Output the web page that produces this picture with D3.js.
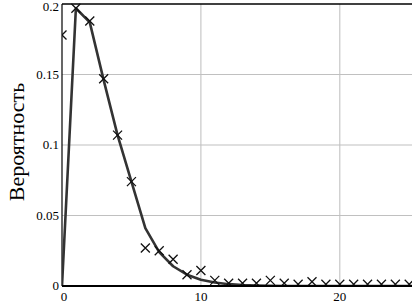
<!DOCTYPE html>
<html>
<head>
<meta charset="utf-8">
<script src="https://cdn.jsdelivr.net/npm/d3@7/dist/d3.min.js"></script>
<style>
  body { margin: 0; background: #fff; }
</style>
</head>
<body>
<div id="chart"></div>
<script>
// observed frequencies (markers)
var obsX = [0,1,2,3,4,5,6,7,8,9,10,11,12,13,14,15,16,17,18,19,20,21,22,23,24,25];
var obsY = [0.178,0.197,0.188,0.147,0.107,0.074,0.027,0.025,0.019,0.008,0.011,0.004,0.002,0.002,0.002,0.004,0.002,0.0012,0.003,0.0012,0.0012,0.0012,0.0012,0.0012,0.0012,0.0012];

// theoretical curve
var fitX = [0,1,2,3,4,5,6,7,8,9,10,11,12,13,14,15,16,17,18,19,20,21,22,23,24,25,26];
var fitY = [0,0.197,0.187,0.146,0.107,0.074,0.041,0.024,0.014,0.008,0.0045,0.0025,0.0013,0.0006,0.0003,0.0001,0,0,0,0,0,0,0,0,0,0,0];

var xTicks = [0, 10, 20];
var yTicks = [0, 0.05, 0.1, 0.15, 0.2];
var yTitle = "Вероятность";

var serif = "'Liberation Serif', 'Times New Roman', 'DejaVu Serif', serif";

var W = 412, H = 304;
var margin = {top: 4, left: 62, right: 0, bottom: 18};
var w = W - margin.left - margin.right,
	h = H - margin.top - margin.bottom;

var svg = d3.select("#chart").append("svg")
	.attr("width", W)
	.attr("height", H);

var g = svg.append("g")
	.attr("transform", "translate(" + margin.left + "," + margin.top + ")");

var x = d3.scaleLinear().domain([0, 25.2]).range([0, w]);
var y = d3.scaleLinear().domain([0, 0.2]).range([h, 0]);

// grid
g.selectAll(".gx").data(xTicks.slice(1)).enter().append("line")
	.attr("x1", d => x(d)).attr("x2", d => x(d))
	.attr("y1", 0).attr("y2", h)
	.attr("stroke", "#c8c8c8").attr("stroke-width", 1.2);
g.selectAll(".gy").data(yTicks.slice(1, -1)).enter().append("line")
	.attr("x1", 0).attr("x2", w)
	.attr("y1", d => y(d)).attr("y2", d => y(d))
	.attr("stroke", "#c0c0c0").attr("stroke-width", 1.2);

// frame
g.append("line").attr("x1", 0).attr("x2", w).attr("y1", 0).attr("y2", 0)
	.attr("stroke", "#000").attr("stroke-width", 1.5);
g.append("line").attr("x1", 0).attr("x2", 0).attr("y1", 0).attr("y2", h)
	.attr("stroke", "#000").attr("stroke-width", 1.2);

// clip for marks
svg.append("clipPath").attr("id", "clip").append("rect")
	.attr("x", 0).attr("y", -8).attr("width", w).attr("height", h + 8);

var plot = g.append("g").attr("clip-path", "url(#clip)");

var line = d3.line()
	.x((d, i) => x(fitX[i]))
	.y(d => y(d));

plot.append("path")
	.datum(fitY)
	.attr("d", line)
	.attr("fill", "none")
	.attr("stroke", "#333")
	.attr("stroke-width", 2.6)
	.attr("stroke-linejoin", "round");

var s = 4.5;
plot.selectAll(".mk").data(obsY).enter().append("path")
	.attr("d", function(d, i) {
		var cx = x(obsX[i]), cy = y(d);
		return "M" + (cx - s) + "," + (cy - s) + "L" + (cx + s) + "," + (cy + s) +
			"M" + (cx - s) + "," + (cy + s) + "L" + (cx + s) + "," + (cy - s);
	})
	.attr("stroke", "#111")
	.attr("stroke-width", 1.3)
	.attr("fill", "none");

// bottom axis line
g.append("line").attr("x1", 0).attr("x2", w).attr("y1", h).attr("y2", h)
	.attr("stroke", "#000").attr("stroke-width", 2);

// y labels
g.selectAll(".yl").data(yTicks).enter().append("text")
	.attr("x", -3)
	.attr("y", d => y(d) + (d === 0.2 ? 3 : 0))
	.attr("dy", "0.32em")
	.attr("text-anchor", "end")
	.attr("font-family", serif)
	.attr("font-size", 13)
	.text(d => d === 0 ? "0" : String(d));

// x labels
g.selectAll(".xl").data(xTicks).enter().append("text")
	.attr("x", d => x(d) + (d === 0 ? 2 : 0))
	.attr("y", h + 15)
	.attr("text-anchor", "middle")
	.attr("font-family", serif)
	.attr("font-size", 13)
	.text(d => d);

// y title
svg.append("text")
	.attr("transform", "translate(24,142) rotate(-90)")
	.attr("text-anchor", "middle")
	.attr("font-family", serif)
	.attr("font-size", 22)
	.text(yTitle);
</script>
</body>
</html>
